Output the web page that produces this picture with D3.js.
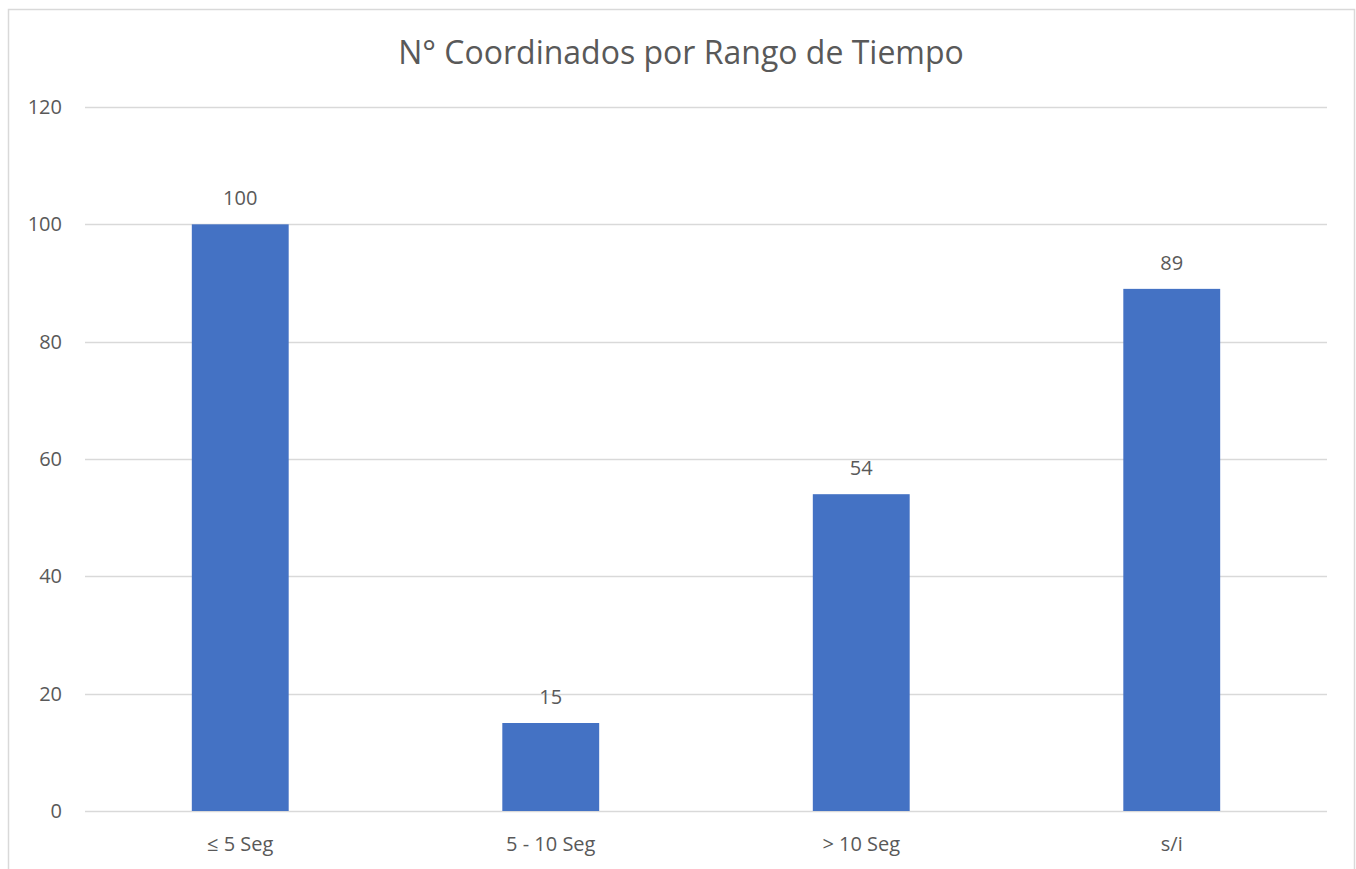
<!DOCTYPE html>
<html>
<head>
<meta charset="utf-8">
<script src="https://cdn.jsdelivr.net/npm/d3@7"></script>
<style>
  body { margin: 0; background: #fff; }
  svg text { font-family: "Open Sans", "Noto Sans", sans-serif; fill: #595959; }
</style>
</head>
<body>
<div id="chart"></div>
<script>
var title = "N° Coordinados por Rango de Tiempo";
var categories = ["≤ 5 Seg", "5 - 10 Seg", "> 10 Seg", "s/i"];
var values = [100, 15, 54, 89];
var y_ticks = [0, 20, 40, 60, 80, 100, 120];

var width = 1356, height = 869;
var margin = {top: 107, right: 29, bottom: 58, left: 85};

var svg = d3.select("#chart").append("svg")
    .attr("width", width)
    .attr("height", height);

//Chart border
svg.append("rect")
    .attr("x", 8.5).attr("y", 9.5)
    .attr("width", 1346).attr("height", 880)
    .attr("fill", "none")
    .attr("stroke", "#d9d9d9")
    .attr("stroke-width", 1.5);

svg.append("text")
    .attr("x", 681).attr("y", 64)
    .attr("text-anchor", "middle")
    .style("font-size", "32px")
    .text(title);

var inner_w = width - margin.left - margin.right;
var inner_h = height - margin.top - margin.bottom;

var x_scale = d3.scaleBand()
    .domain(categories)
    .range([0, inner_w])
    .paddingInner(0.688)
    .paddingOuter(0.344);

var y_scale = d3.scaleLinear()
    .domain([0, 120])
    .range([704, 0]);

var g = svg.append("g")
    .attr("transform", "translate(" + margin.left + "," + margin.top + ")");

//Gridlines
g.selectAll(".grid").data(y_ticks).enter().append("line")
    .attr("x1", 0).attr("x2", inner_w)
    .attr("y1", function(d) {return Math.round(y_scale(d)) + 0.5;})
    .attr("y2", function(d) {return Math.round(y_scale(d)) + 0.5;})
    .attr("stroke", "#d9d9d9")
    .attr("stroke-width", 1.5);

//Y axis labels
var y_axis = d3.axisLeft(y_scale).tickValues(y_ticks).tickSize(0).tickPadding(23);
var ya = g.append("g").call(y_axis);
ya.select(".domain").remove();
ya.selectAll("text").style("font-size", "20px").attr("fill", "#595959");

//X axis labels
var x_axis = d3.axisBottom(x_scale).tickSize(0).tickPadding(26);
var xa = g.append("g")
    .attr("transform", "translate(0," + y_scale(0) + ")")
    .call(x_axis);
xa.select(".domain").remove();
xa.selectAll("text").style("font-size", "20px").attr("fill", "#595959");

//Value labels
g.selectAll(".bar").data(values).enter().append("rect")
    .attr("x", function(d, i) {return x_scale(categories[i]);})
    .attr("y", function(d) {return y_scale(d);})
    .attr("width", x_scale.bandwidth())
    .attr("height", function(d) {return y_scale(0) - y_scale(d);})
    .attr("fill", "#4472c4");

g.selectAll(".lbl").data(values).enter().append("text")
    .attr("x", function(d, i) {return x_scale(categories[i]) + x_scale.bandwidth() / 2;})
    .attr("y", function(d) {return y_scale(d) - 19;})
    .attr("text-anchor", "middle")
    .style("font-size", "20px")
    .text(function(d) {return d;});
</script>
</body>
</html>
